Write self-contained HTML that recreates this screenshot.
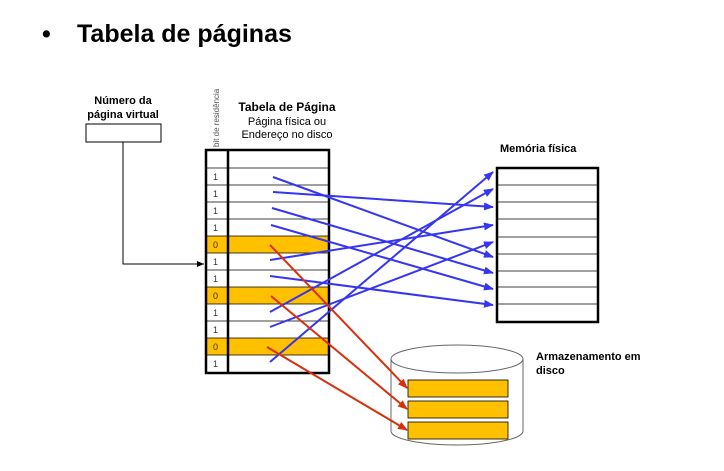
<!DOCTYPE html>
<html><head><meta charset="utf-8"><style>
html,body{margin:0;padding:0;background:#fff;width:724px;height:471px;overflow:hidden}
svg{display:block}
text{font-family:"Liberation Sans",Arial,sans-serif}
</style></head><body>
<svg width="724" height="471" viewBox="0 0 724 471" xmlns="http://www.w3.org/2000/svg">
<defs>
<marker id="ab" markerWidth="10" markerHeight="8" refX="9" refY="4" orient="auto" markerUnits="userSpaceOnUse"><path d="M0,0 L10,4 L0,8 z" fill="#3535f2"/></marker>
<marker id="ar" markerWidth="10" markerHeight="8" refX="9" refY="4" orient="auto" markerUnits="userSpaceOnUse"><path d="M0,0 L10,4 L0,8 z" fill="#d8300c"/></marker>
<marker id="ak" markerWidth="7" markerHeight="6" refX="7" refY="3" orient="auto" markerUnits="userSpaceOnUse"><path d="M0,0 L7,3 L0,6 z" fill="#000"/></marker>
</defs>
<text x="42" y="42" font-size="25" font-weight="bold">•</text>
<text x="77" y="42" font-size="25" font-weight="bold">Tabela de páginas</text>

<text x="123" y="104" font-size="11" font-weight="bold" text-anchor="middle">Número da</text>
<text x="123" y="118" font-size="11" font-weight="bold" text-anchor="middle">página virtual</text>
<rect x="86" y="124" width="75" height="18" fill="#fff" stroke="#000" stroke-width="1"/>
<polyline points="123,142 123,264 204,264" fill="none" stroke="#000" stroke-width="1" marker-end="url(#ak)"/>

<text transform="translate(219,147) rotate(-90)" font-size="8" fill="#555">bit de residência</text>
<text x="287" y="111" font-size="12" font-weight="bold" text-anchor="middle">Tabela de Página</text>
<text x="287" y="125" font-size="11" text-anchor="middle">Página física ou</text>
<text x="287" y="138" font-size="11" text-anchor="middle">Endereço no disco</text>

<g>
<rect x="206" y="236" width="123" height="17" fill="#ffc000"/>
<rect x="206" y="287" width="123" height="17" fill="#ffc000"/>
<rect x="206" y="338" width="123" height="17" fill="#ffc000"/>
<g stroke="#000" stroke-width="0.8">
<line x1="206" y1="168" x2="329" y2="168"/><line x1="206" y1="185" x2="329" y2="185"/>
<line x1="206" y1="202" x2="329" y2="202"/><line x1="206" y1="219" x2="329" y2="219"/>
<line x1="206" y1="236" x2="329" y2="236"/><line x1="206" y1="253" x2="329" y2="253"/>
<line x1="206" y1="270" x2="329" y2="270"/><line x1="206" y1="287" x2="329" y2="287"/>
<line x1="206" y1="304" x2="329" y2="304"/><line x1="206" y1="321" x2="329" y2="321"/>
<line x1="206" y1="338" x2="329" y2="338"/><line x1="206" y1="355" x2="329" y2="355"/>
</g>
<rect x="206" y="150" width="123" height="223" fill="none" stroke="#000" stroke-width="2.5"/>
<line x1="228" y1="150" x2="228" y2="373" stroke="#000" stroke-width="2.5"/>
<g font-size="9" fill="#333">
<text x="213" y="180">1</text><text x="213" y="197">1</text><text x="213" y="214">1</text>
<text x="213" y="231">1</text><text x="213" y="248">0</text><text x="213" y="265">1</text>
<text x="213" y="282">1</text><text x="213" y="299">0</text><text x="213" y="316">1</text>
<text x="213" y="333">1</text><text x="213" y="350">0</text><text x="213" y="367">1</text>
</g>
</g>

<text x="500" y="152" font-size="11" font-weight="bold">Memória física</text>
<g stroke="#000" stroke-width="0.8">
<line x1="497" y1="185" x2="598" y2="185"/><line x1="497" y1="202" x2="598" y2="202"/>
<line x1="497" y1="219" x2="598" y2="219"/><line x1="497" y1="237" x2="598" y2="237"/>
<line x1="497" y1="254" x2="598" y2="254"/><line x1="497" y1="271" x2="598" y2="271"/>
<line x1="497" y1="287" x2="598" y2="287"/><line x1="497" y1="304" x2="598" y2="304"/>
</g>
<rect x="497" y="168" width="101" height="154" fill="none" stroke="#000" stroke-width="2.5"/>

<path d="M391,359 L391,431 A66,14 0 0 0 523,431 L523,359" fill="#fff" stroke="#666" stroke-width="1"/>
<ellipse cx="457" cy="359" rx="66" ry="14" fill="#fff" stroke="#666" stroke-width="1"/>
<rect x="408" y="380" width="100" height="17" fill="#ffc000" stroke="#000" stroke-width="0.8"/>
<rect x="408" y="401" width="100" height="17" fill="#ffc000" stroke="#000" stroke-width="0.8"/>
<rect x="408" y="422" width="100" height="17" fill="#ffc000" stroke="#000" stroke-width="0.8"/>
<text x="536" y="360" font-size="11" font-weight="bold">Armazenamento em</text>
<text x="536" y="374" font-size="11" font-weight="bold">disco</text>

<g stroke="#3535f2" stroke-width="2" fill="none">
<line x1="273" y1="177" x2="493" y2="257" marker-end="url(#ab)"/>
<line x1="273" y1="192" x2="493" y2="207" marker-end="url(#ab)"/>
<line x1="272" y1="208" x2="493" y2="273" marker-end="url(#ab)"/>
<line x1="271" y1="225" x2="493" y2="289" marker-end="url(#ab)"/>
<line x1="270" y1="260" x2="493" y2="225" marker-end="url(#ab)"/>
<line x1="270" y1="276" x2="493" y2="305" marker-end="url(#ab)"/>
<line x1="270" y1="312" x2="493" y2="189" marker-end="url(#ab)"/>
<line x1="270" y1="327" x2="493" y2="242" marker-end="url(#ab)"/>
<line x1="270" y1="362" x2="493" y2="172" marker-end="url(#ab)"/>
</g>
<g stroke="#d8300c" stroke-width="2" fill="none">
<line x1="270" y1="245" x2="407" y2="388" marker-end="url(#ar)"/>
<line x1="271" y1="296" x2="407" y2="409" marker-end="url(#ar)"/>
<line x1="267" y1="347" x2="407" y2="430" marker-end="url(#ar)"/>
</g>
</svg>
</body></html>
